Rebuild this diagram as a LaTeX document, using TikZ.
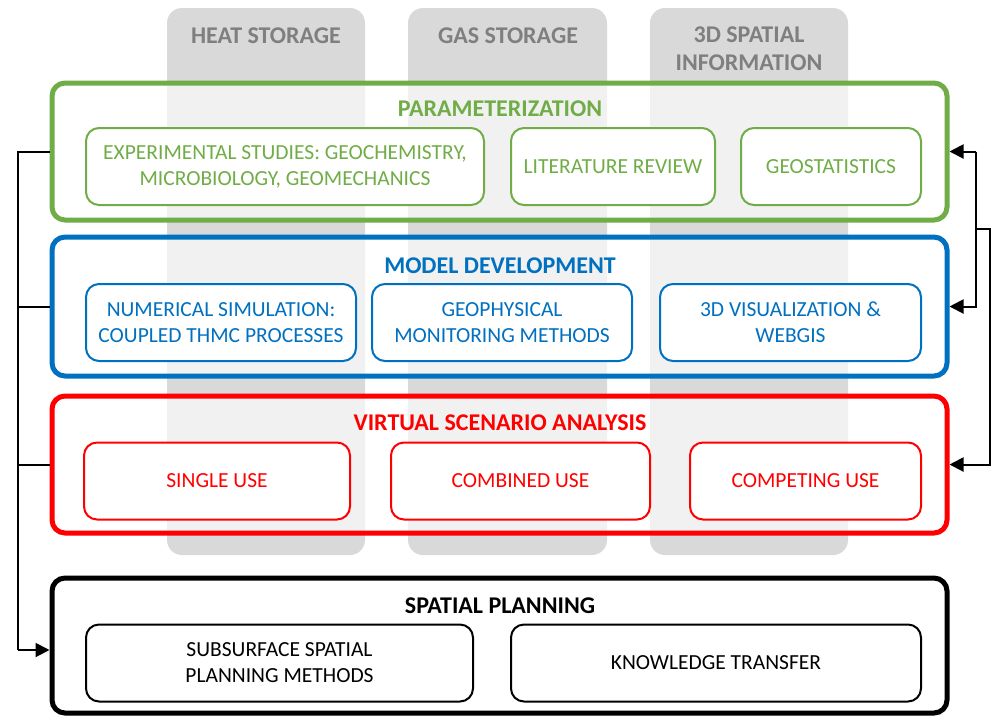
\documentclass[tikz,border=0pt]{standalone}
\usepackage{fontspec}
\setmainfont{Carlito}
\usetikzlibrary{arrows.meta}
\definecolor{cgreen}{HTML}{70AD47}
\definecolor{cblue}{HTML}{0070C0}
\definecolor{cred}{HTML}{FF0000}
\definecolor{cgray}{HTML}{D9D9D9}
\definecolor{clabel}{HTML}{7F7F7F}
\tikzset{
  column/.style={fill=cgray, rounded corners=15pt},
  collabel/.style={text=clabel, font=\fontsize{24}{28}\selectfont\bfseries, align=center},
  bigbox/.style={line width=5pt, rounded corners=13pt, fill=white, fill opacity=0.65, minimum width=895pt, inner sep=0pt},
  smallbox/.style={line width=2pt, rounded corners=13pt, fill=white, minimum height=77pt, align=center, inner sep=0pt, font=\fontsize{21.5}{26}\selectfont},
  title/.style={font=\fontsize{24}{28}\selectfont\bfseries},
  conn/.style={line width=2pt, black},
  tip/.style={-{Triangle[length=14pt,width=14pt]}}
}
\begin{document}
\begin{tikzpicture}[x=1pt,y=-1pt]
\useasboundingbox (0,0) rectangle (992,716);
% columns
\fill[column] (167,8) rectangle (365,555);
\fill[column] (408,8) rectangle (607,555);
\fill[column] (650,8) rectangle (848,555);
\node[collabel] (heat) at (266,36) {HEAT STORAGE};
\node[collabel] (gas) at (508,36) {GAS STORAGE};
\node[collabel] (spat) at (749,49) {3D SPATIAL\\INFORMATION};
% big boxes
\node[bigbox, draw=cgreen, minimum height=137pt] (param) at (499.5,151.5) {};
\node[bigbox, draw=cblue, minimum height=139pt] (model) at (499.5,306.5) {};
\node[bigbox, draw=cred, minimum height=137pt] (scen) at (499.5,464.5) {};
\node[bigbox, draw=black, minimum height=135pt] (plan) at (499.5,645.5) {};
% titles
\node[title, text=cgreen] (paramT) at (500,109) {PARAMETERIZATION};
\node[title, text=cblue] (modelT) at (500,266) {MODEL DEVELOPMENT};
\node[title, text=cred] (scenT) at (500,423) {VIRTUAL SCENARIO ANALYSIS};
\node[title, text=black] (planT) at (500,606) {SPATIAL PLANNING};
% green small
\node[smallbox, draw=cgreen, text=cgreen, minimum width=398pt] (g1) at (285,166.5) {EXPERIMENTAL STUDIES: GEOCHEMISTRY,\\MICROBIOLOGY, GEOMECHANICS};
\node[smallbox, draw=cgreen, text=cgreen, minimum width=204pt] (g2) at (613,166.5) {LITERATURE REVIEW};
\node[smallbox, draw=cgreen, text=cgreen, minimum width=180pt] (g3) at (831,166.5) {GEOSTATISTICS};
% blue small
\node[smallbox, draw=cblue, text=cblue, minimum width=270pt] (b1) at (221,322.5) {NUMERICAL SIMULATION:\\COUPLED THMC PROCESSES};
\node[smallbox, draw=cblue, text=cblue, minimum width=260pt] (b2) at (502,322.5) {GEOPHYSICAL\\MONITORING METHODS};
\node[smallbox, draw=cblue, text=cblue, minimum width=261pt] (b3) at (790.5,322.5) {3D VISUALIZATION \&\\WEBGIS};
% red small
\node[smallbox, draw=cred, text=cred, minimum width=266pt] (r1) at (217,481) {SINGLE USE};
\node[smallbox, draw=cred, text=cred, minimum width=259pt] (r2) at (520.5,481) {COMBINED USE};
\node[smallbox, draw=cred, text=cred, minimum width=231pt] (r3) at (805.5,481) {COMPETING USE};
% black small
\node[smallbox, draw=black, text=black, minimum width=387pt] (k1) at (279.5,663) {SUBSURFACE SPATIAL\\PLANNING METHODS};
\node[smallbox, draw=black, text=black, minimum width=410pt] (k2) at (716,663) {KNOWLEDGE TRANSFER};
% left connectors
\coordinate (lt) at (18,151.5);
\coordinate (lb) at (18,650);
\draw[conn] (param.west) -- (lt) -- (lb);
\draw[conn] (model.west) -- (model.west -| lt);
\draw[conn] (scen.west) -- (scen.west -| lt);
\draw[conn, tip] (lb) -- (lb -| plan.west);
% right connectors
\coordinate (ri) at (976,0);
\coordinate (ro) at (990,0);
\coordinate (j) at (976,229);
\draw[conn, tip] (param.east -| ri) -- (param.east);
\draw[conn, tip] (param.east -| ri) -- (model.east -| ri) -- (model.east);
\draw[conn, tip] (j) -- (j -| ro) -- (scen.east -| ro) -- (scen.east);
\end{tikzpicture}
\end{document}
